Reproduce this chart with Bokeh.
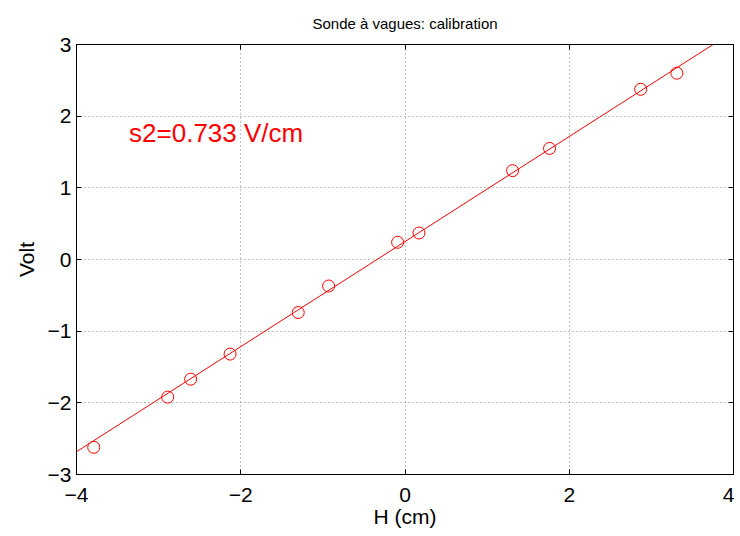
import numpy as np
from bokeh.plotting import figure
from bokeh.models import Label, LinearAxis, FixedTicker, Range1d
from bokeh.embed import file_html
from bokeh.resources import INLINE

# data
h_cm = [-3.79, -2.89, -2.61, -2.13, -1.30, -0.93, -0.09, 0.17, 1.31, 1.76, 2.87, 3.31]
volt = [-2.62, -1.92, -1.67, -1.32, -0.74, -0.37, 0.24, 0.37, 1.24, 1.55, 2.375, 2.60]
fit_slope = 0.733
fit_intercept = 0.25
fit_x = [-4.0, 4.0]
x_ticks = [-4, -2, 0, 2, 4]
x_tick_labels = ["\u22124", "\u22122", "0", "2", "4"]
y_ticks = [-3, -2, -1, 0, 1, 2, 3]
y_tick_labels = ["\u22123", "\u22122", "\u22121", "0", "1", "2", "3"]
title_text = "Sonde à vagues: calibration"
annotation_text = "s2=0.733 V/cm"
annotation_pos = (-3.36, 1.76)

FONT = "Liberation Sans"
RED = "#ff0000"

p = figure(width=734, height=530, output_backend="svg", toolbar_location=None,
           x_range=Range1d(-4, 4), y_range=Range1d(-3, 3),
           min_border_left=76, min_border_right=1, min_border_top=43, min_border_bottom=55,
           x_axis_label="H (cm)", y_axis_label="Volt")

p.title.text = title_text
p.title.align = "center"
p.title.text_font = FONT
p.title.text_font_size = "15px"
p.title.text_font_style = "normal"
p.title.text_color = "black"
p.title.standoff = 25

p.outline_line_color = "black"
p.outline_line_width = 1

for ax, ticks, labels in ((p.xaxis[0], x_ticks, x_tick_labels), (p.yaxis[0], y_ticks, y_tick_labels)):
    ax.ticker = FixedTicker(ticks=ticks)
    ax.major_label_overrides = {t: l for t, l in zip(ticks, labels)}
    ax.major_tick_in = 5
    ax.major_tick_out = 0
    ax.minor_tick_in = 0
    ax.minor_tick_out = 0
    ax.axis_line_color = "black"
    ax.major_tick_line_color = "black"
    ax.major_label_text_font = FONT
    ax.major_label_text_font_size = "21px"
    ax.major_label_text_color = "black"
    ax.axis_label_text_font = FONT
    ax.axis_label_text_font_size = "21px"
    ax.axis_label_text_font_style = "normal"
    ax.axis_label_text_color = "black"

p.xaxis.major_label_standoff = 13
p.xaxis.axis_label_standoff = 0
p.yaxis.major_label_standoff = 5
p.yaxis.axis_label_standoff = 7

# mirrored ticks on top and right (no labels)
for loc, ticks in (("above", x_ticks), ("right", y_ticks)):
    ax2 = LinearAxis(ticker=FixedTicker(ticks=ticks), major_tick_in=5, major_tick_out=0,
                     minor_tick_in=0, minor_tick_out=0,
                     major_label_overrides={t: "" for t in ticks},
                     major_label_standoff=0, axis_line_color="black", major_tick_line_color="black")
    p.add_layout(ax2, loc)

for g, ticks in ((p.xgrid[0], x_ticks), (p.ygrid[0], y_ticks)):
    g.ticker = FixedTicker(ticks=ticks)
    g.grid_line_color = "#808080"
    g.grid_line_dash = "1 3"
    g.grid_line_width = 1

fit_y = [fit_intercept + fit_slope * x for x in fit_x]
p.line(fit_x, fit_y, line_color=RED, line_width=1)
p.scatter(h_cm, volt, marker="circle", size=12, fill_color=None, line_color=RED, line_width=1)

p.add_layout(Label(x=annotation_pos[0], y=annotation_pos[1], text=annotation_text,
                   text_font=FONT, text_font_size="26px", text_color=RED,
                   text_baseline="middle", text_align="left"))

open("out.html", "w").write(file_html(p, INLINE))
